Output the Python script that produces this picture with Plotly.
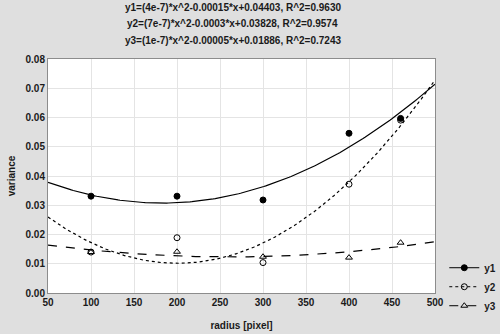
import numpy as np
import plotly.graph_objects as go

# measured variance per radius
radius = [100, 200, 300, 400, 460]
y1_vals = [0.0331, 0.0331, 0.0318, 0.0546, 0.0597]
y2_vals = [0.0140, 0.0189, 0.0104, 0.0372, 0.0591]
y3_vals = [0.0140, 0.0141, 0.0124, 0.0121, 0.0172]

series_names = ["y1", "y2", "y3"]
fit_labels = [
    "y1=(4e-7)*x^2-0.00015*x+0.04403, R^2=0.9630",
    "y2=(7e-7)*x^2-0.0003*x+0.03828, R^2=0.9574",
    "y3=(1e-7)*x^2-0.00005*x+0.01886, R^2=0.7243",
]
x_ticks = [50, 100, 150, 200, 250, 300, 350, 400, 450, 500]
y_ticks = [0.00, 0.01, 0.02, 0.03, 0.04, 0.05, 0.06, 0.07, 0.08]

FONT = "Liberation Sans, Arial, sans-serif"
TXT = dict(family=FONT, size=10, color="#1a1a1a", weight="bold")
styles = [
    dict(dash="solid", symbol="circle"),
    dict(dash="dot", symbol="circle-open"),
    dict(dash="dash", symbol="triangle-up-open"),
]

xs = np.linspace(50, 500, 200)
fig = go.Figure()
for name, vals, st in zip(series_names, [y1_vals, y2_vals, y3_vals], styles):
    line = dict(color="black", width=1.2, dash=st["dash"])
    marker = dict(symbol=st["symbol"], size=6, color="black",
                  line=dict(color="black", width=1))
    # quadratic least-squares fit through the measurements
    coef = np.polyfit(radius, vals, 2)
    fig.add_trace(go.Scatter(x=xs, y=np.polyval(coef, xs), mode="lines",
                             line=line, showlegend=False, hoverinfo="skip"))
    fig.add_trace(go.Scatter(x=radius, y=vals, mode="markers", marker=marker,
                             showlegend=False, name=name))
    # legend entry: line with marker
    fig.add_trace(go.Scatter(x=[None], y=[None], mode="lines+markers", name=name,
                             line=dict(color="black", width=1, dash=st["dash"]),
                             marker=marker))

annotations = []
for i, txt in enumerate(fit_labels):
    annotations.append(dict(
        text=txt, xref="paper", yref="paper", x=0.477, y=1.222 - i * 0.071,
        showarrow=False, xanchor="center", yanchor="middle", font=TXT,
    ))

axis_common = dict(
    showline=True, linecolor="#8c8c8c", linewidth=1, mirror=True,
    showgrid=True, gridcolor="#e4e4e4", gridwidth=1, zeroline=False,
    ticks="", tickfont=TXT,
)
fig.update_layout(
    width=500, height=334,
    margin=dict(l=48, r=65, t=59, b=41, autoexpand=False),
    paper_bgcolor="#dfdfdf", plot_bgcolor="white",
    annotations=annotations,
    xaxis=dict(range=[50, 500], tickvals=x_ticks,
               title=dict(text="radius [pixel]", standoff=14, font=TXT),
               **axis_common),
    yaxis=dict(range=[0, 0.08], tickvals=y_ticks, tickformat=".2f",
               title=dict(text="variance", standoff=8, font=TXT),
               **axis_common),
    legend=dict(x=1.024, y=0.17, xanchor="left", yanchor="top",
                bgcolor="rgba(0,0,0,0)", font=TXT,
                itemwidth=30, tracegroupgap=0),
    showlegend=True,
)
fig.write_html("out.html")
